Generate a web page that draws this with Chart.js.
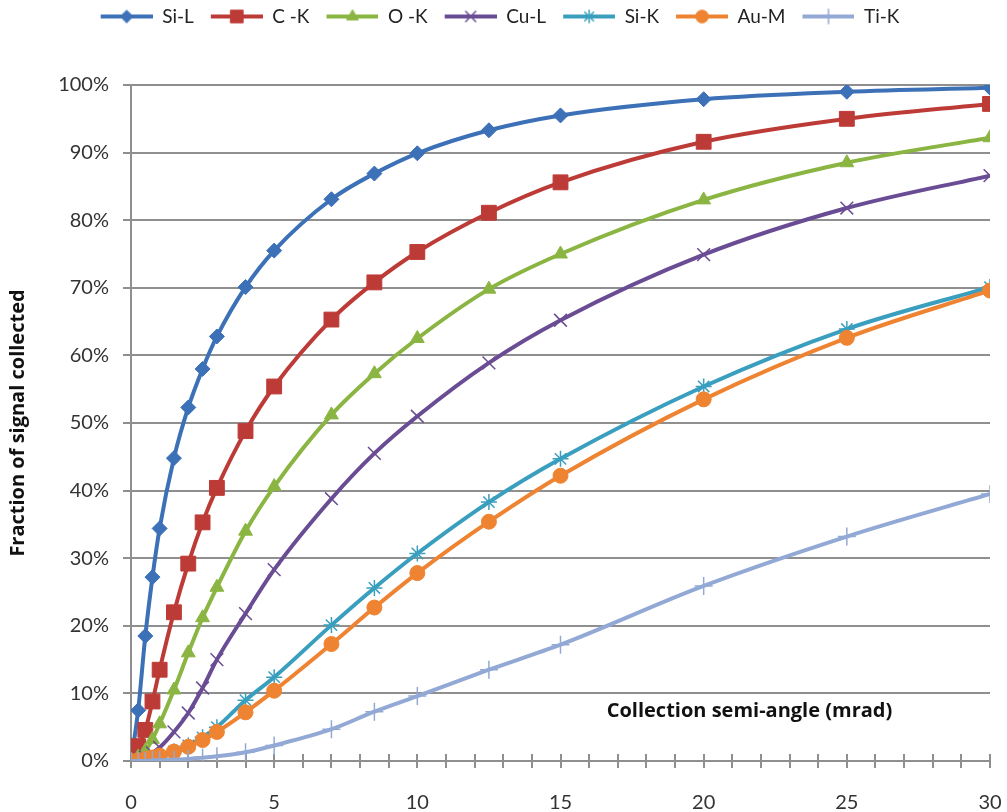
<!DOCTYPE html>
<html>
<head>
<meta charset="utf-8">
<script src="https://cdn.jsdelivr.net/npm/chart.js@4.4.1/dist/chart.umd.min.js"></script>
<style>
  html, body { margin: 0; padding: 0; background: #fff; }
  #wrap { width: 1007px; height: 812px; }
</style>
</head>
<body>
<div id="wrap"><canvas id="signalChart" width="1007" height="812"></canvas></div>
<script>
// collection semi-angle (mrad)
const angles = [0, 0.25, 0.5, 0.75, 1, 1.5, 2, 2.5, 3, 4, 5, 7, 8.5, 10, 12.5, 15, 20, 25, 30];

// fraction of signal collected (%)
const siL = [0, 7.5, 18.5, 27.2, 34.4, 44.8, 52.3, 58.0, 62.8, 70.1, 75.5, 83.1, 86.9, 89.9, 93.3, 95.5, 97.9, 99.0, 99.6];
const cK  = [0, 2.2, 4.6, 8.8, 13.5, 22.0, 29.2, 35.3, 40.4, 48.8, 55.4, 65.3, 70.8, 75.3, 81.1, 85.6, 91.6, 95.0, 97.2];
const oK  = [0, 0.6, 1.5, 3.2, 5.5, 10.5, 16.0, 21.2, 25.7, 34.0, 40.6, 51.2, 57.3, 62.5, 69.8, 75.0, 83.0, 88.5, 92.2];
const cuL = [0, 0.2, 0.6, 1.2, 2.0, 4.3, 7.1, 10.8, 15.0, 21.8, 28.3, 38.8, 45.5, 51.0, 58.9, 65.2, 74.9, 81.8, 86.6];
const siK = [0, 0.1, 0.2, 0.4, 0.6, 1.4, 2.3, 3.5, 5.0, 9.0, 12.4, 20.1, 25.6, 30.7, 38.3, 44.7, 55.4, 63.9, 70.1];
const auM = [0, 0.1, 0.3, 0.5, 0.8, 1.4, 2.1, 3.1, 4.3, 7.2, 10.4, 17.3, 22.7, 27.8, 35.4, 42.2, 53.5, 62.6, 69.6];
const tiK = [0, 0, 0, 0.1, 0.1, 0.2, 0.3, 0.5, 0.7, 1.3, 2.3, 4.7, 7.3, 9.6, 13.5, 17.2, 25.9, 33.2, 39.5];

const seriesNames = ["Si-L", "C -K", "O -K", "Cu-L", "Si-K", "Au-M", "Ti-K"];
const xTickLabels = [0, 5, 10, 15, 20, 25, 30];
const yTickLabels = ["0%", "10%", "20%", "30%", "40%", "50%", "60%", "70%", "80%", "90%", "100%"];

const FONT = "Lato, 'Open Sans', sans-serif";
const TITLE_FONT = "'Open Sans', Lato, sans-serif";

const looks = [
  { color: "#3c70b7", style: "rectRot", radius: 7.5, bw: 1 },
  { color: "#bd3b37", style: "rect", radius: 10.5, bw: 1 },
  { color: "#8bb542", style: "triangle", radius: 8, bw: 1 },
  { color: "#6a4c94", style: "crossRot", radius: 9, bw: 1.5 },
  { color: "#3a9fbe", style: "star", radius: 8, bw: 1.5 },
  { color: "#ee8432", style: "circle", radius: 7.5, bw: 1 },
  { color: "#93a9d5", style: "cross", radius: 9, bw: 1.5 },
];

const allValues = [siL, cK, oK, cuL, siK, auM, tiK];

// small canvas with line + marker for the legend
function legendIcon(look) {
  const c = document.createElement("canvas");
  c.width = 62;
  c.height = 22;
  const ctx = c.getContext("2d");
  ctx.strokeStyle = look.color;
  ctx.fillStyle = look.color;
  ctx.lineWidth = 4;
  ctx.beginPath();
  ctx.moveTo(10, 11);
  ctx.lineTo(62, 11);
  ctx.stroke();
  ctx.lineWidth = look.bw;
  Chart.helpers.drawPoint(ctx, { pointStyle: look.style, radius: look.radius * 0.85, borderWidth: look.bw, rotation: 0 }, 36, 11);
  return c;
}

const datasets = seriesNames.map((name, i) => ({
  label: name,
  data: angles.map((a, k) => ({ x: a, y: allValues[i][k] })),
  borderColor: looks[i].color,
  backgroundColor: looks[i].color,
  borderWidth: 4,
  pointStyle: looks[i].style,
  pointRadius: looks[i].radius,
  pointBorderWidth: looks[i].bw,
  pointBackgroundColor: looks[i].color,
  pointBorderColor: looks[i].color,
  cubicInterpolationMode: "monotone",
  order: seriesNames.length - i,
  icon: legendIcon(looks[i]),
}));

// minor ticks crossing the x axis, every 1 mrad
const crossTicks = {
  id: "crossTicks",
  beforeDatasetsDraw(chart) {
    const { ctx } = chart;
    const xs = chart.scales.x;
    const y0 = chart.chartArea.bottom;
    ctx.save();
    ctx.strokeStyle = "#8f8f8f";
    ctx.lineWidth = 2;
    for (let v = 0; v <= 30; v++) {
      const px = Math.round(xs.getPixelForValue(v));
      ctx.beginPath();
      ctx.moveTo(px, y0 - 7);
      ctx.lineTo(px, y0 + 7);
      ctx.stroke();
    }
    ctx.restore();
  },
};

// axis titles: x one sits inside the plot, y one centred on the plot height
const axisTitles = {
  id: "axisTitles",
  afterDatasetsDraw(chart) {
    const { ctx, chartArea } = chart;
    const px = chart.scales.x.getPixelForValue(21.6);
    const py = chart.scales.y.getPixelForValue(7.3);
    ctx.save();
    ctx.font = "bold 20px " + TITLE_FONT;
    ctx.fillStyle = "#111";
    ctx.textAlign = "center";
    ctx.textBaseline = "middle";
    ctx.fillText("Collection semi-angle (mrad)", px, py);

    ctx.translate(18, (chartArea.top + chartArea.bottom) / 2);
    ctx.rotate(-Math.PI / 2);
    ctx.fillText("Fraction of signal collected", 0, 0);
    ctx.restore();
  },
};

// give legend a fixed block height
const legendHeight = {
  id: "legendHeight",
  beforeInit(chart) {
    const origFit = chart.legend.fit;
    chart.legend.fit = function () {
      origFit.bind(chart.legend)();
      this.height = 85;
    };
  },
};

new Chart(document.getElementById("signalChart"), {
  type: "line",
  data: { datasets },
  options: {
    responsive: false,
    animation: false,
    layout: { padding: { left: 0, right: 17, top: 0, bottom: 0 } },
    plugins: {
      tooltip: { enabled: false },
      legend: {
        position: "top",
        labels: {
          usePointStyle: true,
          pointStyleWidth: 62,
          padding: 7,
          color: "#222",
          font: { family: FONT, size: 19 },
          generateLabels(chart) {
            return chart.data.datasets.map((ds, i) => ({
              text: ds.label,
              pointStyle: ds.icon,
              fillStyle: ds.borderColor,
              strokeStyle: ds.borderColor,
              lineWidth: 0,
              fontColor: "#222",
              hidden: false,
              datasetIndex: i,
            }));
          },
        },
      },
    },
    scales: {
      x: {
        type: "linear",
        min: 0,
        max: 30,
        afterFit(scale) {
          scale.height = 51;
          scale.paddingLeft = 0;
          scale.paddingRight = 0;
        },
        afterBuildTicks(scale) { scale.ticks = xTickLabels.map((v) => ({ value: v })); },
        ticks: {
          padding: 22,
          color: "#333",
          font: { family: FONT, size: 20 },
          maxRotation: 0,
          callback: (v) => String(v),
        },
        grid: { display: false },
        border: { display: true, color: "#8f8f8f", width: 2 },
      },
      y: {
        min: 0,
        max: 100,
        afterFit(scale) {
          scale.width = 131;
          scale.paddingTop = 0;
          scale.paddingBottom = 0;
        },
        afterBuildTicks(scale) { scale.ticks = yTickLabels.map((t, i) => ({ value: i * 10 })); },
        ticks: {
          padding: 14,
          color: "#333",
          font: { family: FONT, size: 20 },
          callback: (v) => yTickLabels[Math.round(v / 10)],
        },
        grid: { color: "#8f8f8f", lineWidth: 2, tickLength: 8 },
        border: { display: true, color: "#8f8f8f", width: 2 },
        title: { display: false },
      },
    },
  },
  plugins: [legendHeight, crossTicks, axisTitles],
});
</script>
</body>
</html>
